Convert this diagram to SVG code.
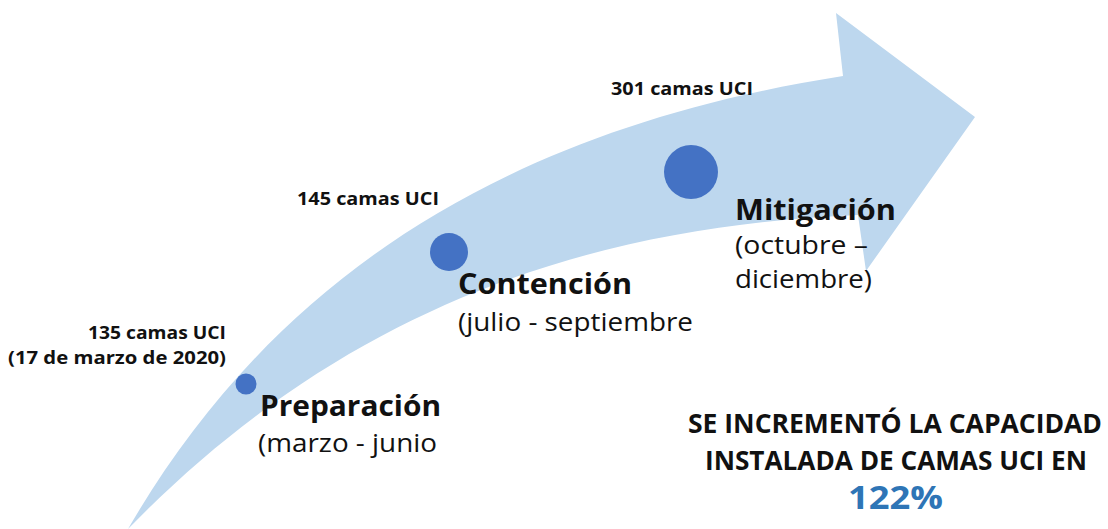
<svg xmlns="http://www.w3.org/2000/svg" width="1108" height="529" viewBox="0 0 1108 529">
  <style>
    .band { fill: #BDD7EE; }
    .dot { fill: #4472C4; }
    .t { font-family: "Open Sans", "Liberation Sans", sans-serif; fill: #111111; }
    .small { font-size: 17px; font-weight: 700; }
    .phase { font-size: 28px; font-weight: 700; }
    .period { font-size: 26px; font-weight: 400; }
    .summary { font-size: 26px; font-weight: 700; }
    .pct { font-size: 33px; font-weight: 700; fill: #2E75B6; }
  </style>
  <rect width="1108" height="529" fill="#FFFFFF"/>
  <g id="connectors">
    <path class="band" d="M128,529 C255,310 465,135 843,76 L836,13 L975,117 L866,271 L858,215 C620,225 360,290 128,529 Z"/>
  </g>
  <g id="node-preparacion">
    <circle class="dot" cx="246" cy="384" r="10.5"/>
    <text class="t small" x="226" y="339" text-anchor="end" textLength="138" lengthAdjust="spacingAndGlyphs">135 camas UCI</text>
    <text class="t small" x="226" y="364" text-anchor="end" textLength="218" lengthAdjust="spacingAndGlyphs">(17 de marzo de 2020)</text>
    <text class="t phase" x="260" y="416" textLength="181" lengthAdjust="spacingAndGlyphs">Preparación</text>
    <text class="t period" x="258" y="452" textLength="179" lengthAdjust="spacingAndGlyphs">(marzo - junio</text>
  </g>
  <g id="node-contencion">
    <circle class="dot" cx="449" cy="252" r="19"/>
    <text class="t small" x="297" y="205" textLength="142" lengthAdjust="spacingAndGlyphs">145 camas UCI</text>
    <text class="t phase" x="458" y="294" textLength="174" lengthAdjust="spacingAndGlyphs">Contención</text>
    <text class="t period" x="458" y="331" textLength="235" lengthAdjust="spacingAndGlyphs">(julio - septiembre</text>
  </g>
  <g id="node-mitigacion">
    <circle class="dot" cx="691" cy="172" r="27"/>
    <text class="t small" x="611" y="95" textLength="142" lengthAdjust="spacingAndGlyphs">301 camas UCI</text>
    <text class="t phase" x="735" y="220" textLength="161" lengthAdjust="spacingAndGlyphs">Mitigación</text>
    <text class="t period" x="735" y="254" textLength="133" lengthAdjust="spacingAndGlyphs">(octubre –</text>
    <text class="t period" x="735" y="288" textLength="137" lengthAdjust="spacingAndGlyphs">diciembre)</text>
  </g>
  <g id="summary">
    <text class="t summary" x="688" y="433" textLength="414" lengthAdjust="spacingAndGlyphs">SE INCREMENTÓ LA CAPACIDAD</text>
    <text class="t summary" x="705" y="470" textLength="382" lengthAdjust="spacingAndGlyphs">INSTALADA DE CAMAS UCI EN</text>
    <text class="t pct" x="848" y="509" textLength="95" lengthAdjust="spacingAndGlyphs">122%</text>
  </g>
</svg>
